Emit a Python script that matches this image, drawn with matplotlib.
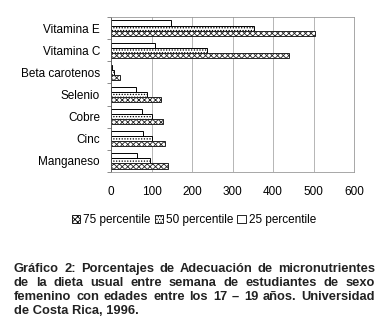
import matplotlib
matplotlib.use("Agg")
import matplotlib.pyplot as plt
import numpy as np
from matplotlib.patches import Patch

categories = ["Vitamina E", "Vitamina C", "Beta carotenos", "Selenio", "Cobre", "Cinc", "Manganeso"]
p25 = [147, 108, 3, 62, 76, 78, 63]
p50 = [353, 236, 8, 88, 100, 100, 96]
p75 = [503, 439, 22, 124, 129, 134, 140]
xticks = [0, 100, 200, 300, 400, 500, 600]
caption_lines = [
    "Gráfico 2: Porcentajes de Adecuación de micronutrientes",
    "de la dieta usual entre semana de estudiantes de sexo",
    "femenino con edades entre los 17 – 19 años. Universidad",
    "de Costa Rica, 1996.",
]

plt.rcParams['font.family'] = ['Liberation Sans', 'DejaVu Sans']
plt.rcParams['hatch.linewidth'] = 0.6

W, H = 384, 331
fig = plt.figure(figsize=(W/100, H/100), dpi=100)
ax = fig.add_axes([111/W, 1-172/H, (354-111)/W, (172-17)/H])

y = np.arange(len(categories))
h = 0.23
ax.barh(y - h, p25, height=h, color="white", edgecolor="black", linewidth=0.7)
ax.barh(y, p50, height=h, color="white", edgecolor="black", hatch="......", linewidth=0.7)
ax.barh(y + h, p75, height=h, color="white", edgecolor="#222222", hatch="xxxxxx", linewidth=0.7)

ax.set_xlim(0, 600)
ax.set_ylim(len(categories) - 0.5, -0.5)
ax.set_xticks(xticks)
ax.set_xticklabels([str(v) for v in xticks], fontsize=8.5)
ax.set_yticks(y)
ax.set_yticklabels(categories, fontsize=8.5)
ax.tick_params(axis='y', length=0, pad=8)
ax.tick_params(axis='x', length=0, pad=10)
ax.set_yticks(np.arange(-0.5, len(categories), 1), minor=True)
ax.tick_params(axis='y', which='minor', length=3, color="#777777", width=0.6)
ax.grid(axis='x', color="#aaaaaa", linewidth=0.6)
ax.set_axisbelow(True)
for s in ax.spines.values():
    s.set_color("#999999")
    s.set_linewidth(0.6)
ax.spines['left'].set_color("#555555")

handles = [
    Patch(facecolor="white", edgecolor="black", hatch="xxxxxx", linewidth=0.6),
    Patch(facecolor="white", edgecolor="black", hatch="......", linewidth=0.6),
    Patch(facecolor="white", edgecolor="black", linewidth=0.6),
]
fig.legend(handles, ["75 percentile", "50 percentile", "25 percentile"],
           loc="center", bbox_to_anchor=(194/W, 1-220/H), ncol=3, frameon=False,
           fontsize=8.5, handlelength=0.7, handleheight=0.7, handletextpad=0.25,
           columnspacing=0.35)

# justified caption
fig.canvas.draw()
renderer = fig.canvas.get_renderer()
x0, x1 = 14, 375
ys = [269, 283, 297, 311]
fs = 9.3
for i, line in enumerate(caption_lines):
    yy = 1 - ys[i]/H
    if i == len(caption_lines) - 1:
        fig.text(x0/W, yy, line, fontsize=fs, fontweight="bold", color="#222222", va="center", ha="left")
        continue
    words = line.split(" ")
    texts = []
    widths = []
    for w in words:
        t = fig.text(0, yy, w, fontsize=fs, fontweight="bold", color="#222222", va="center", ha="left")
        texts.append(t)
        widths.append(t.get_window_extent(renderer).width)
    gap = (x1 - x0 - sum(widths)) / (len(words) - 1)
    xc = x0
    for t, wd in zip(texts, widths):
        t.set_x(xc / W)
        xc += wd + gap

fig.savefig("out.png", dpi=100)
